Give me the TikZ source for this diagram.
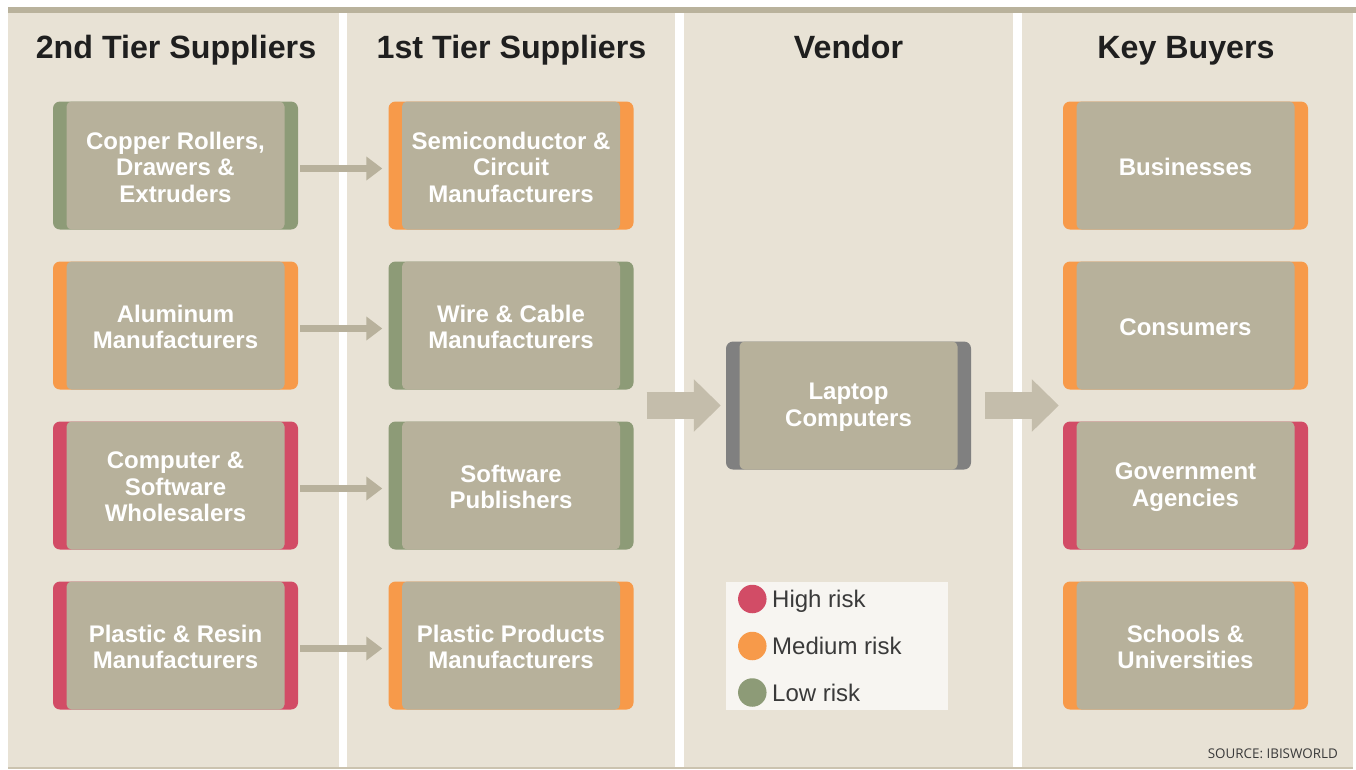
\documentclass[tikz,border=0pt]{standalone}
\usepackage{fontspec}
\setmainfont{Liberation Sans}
\newfontfamily\srcfont{Open Sans}
\usetikzlibrary{arrows.meta}

\definecolor{panel}{HTML}{E8E2D5}
\definecolor{topbar}{HTML}{B9B29C}
\definecolor{footline}{HTML}{CBC3AF}
\definecolor{boxfill}{HTML}{B7B19B}
\definecolor{riskhigh}{HTML}{D24C66}
\definecolor{riskmed}{HTML}{F79A4A}
\definecolor{risklow}{HTML}{8D9B77}
\definecolor{vendorgrey}{HTML}{808080}
\definecolor{smallarrow}{HTML}{B8B19C}
\definecolor{bigarrow}{HTML}{C4BDAB}
\definecolor{legendbg}{HTML}{F7F5F1}
\definecolor{legendtxt}{HTML}{3A3A3A}
\definecolor{titletxt}{HTML}{1F1F1F}

\tikzset{
  stripe/.style={fill=#1, rounded corners=7pt, minimum width=245pt,
    minimum height=128pt, inner sep=0pt},
  core/.style={fill=boxfill, rounded corners=5pt, minimum width=218pt,
    minimum height=128pt, inner sep=0pt},
  boxlabel/.style={inner sep=0pt, text=white, align=center,
    font=\bfseries\fontsize{24}{26.5}\selectfont},
  coltitle/.style={anchor=base, text=titletxt,
    font=\bfseries\fontsize{32.2}{36}\selectfont},
  sarrow/.style={draw=smallarrow, line width=6.5pt,
    -{Triangle[length=16pt,width=23pt]}},
  barrow/.style={draw=bigarrow, line width=27pt,
    -{Triangle[length=27pt,width=51pt]}},
  dot/.style={circle, fill=#1, minimum size=28.5pt, inner sep=0pt},
  legendtext/.style={anchor=base west, inner sep=0pt, text=legendtxt,
    font=\fontsize{24}{28}\selectfont},
}

% name, x, y, stripe colour, label
\newcommand\riskbox[5]{%
  \node[stripe=#4] (#1o) at (#2,#3) {};
  \node[core] (#1f) at (#2,#3) {};
  \node[boxlabel] (#1) at ([yshift=-1.5pt]#1f.center) {#5};
}

\begin{document}
\begin{tikzpicture}[x=1pt,y=-1pt]
  \useasboundingbox (0,0) rectangle (1356,769);
  \fill[white] (0,0) rectangle (1356,769);

  % column panels and frame lines
  \fill[topbar] (8,7) rectangle (1356,13);
  \fill[panel] (8,13) rectangle (339,767);
  \fill[panel] (347,13) rectangle (675,767);
  \fill[panel] (684,13) rectangle (1013,767);
  \fill[panel] (1022,13) rectangle (1353,767);
  \fill[footline] (8,767) rectangle (1353,768.6);

  % column headings
  \node[coltitle] (t1) at (176,58) {2nd Tier Suppliers};
  \node[coltitle] (t2) at (511.5,58) {1st Tier Suppliers};
  \node[coltitle] (t3) at (848.5,58) {Vendor};
  \node[coltitle] (t4) at (1186,58) {Key Buyers};

  % 2nd tier suppliers
  \riskbox{copper}{175.5}{165.5}{risklow}{Copper Rollers,\\Drawers \&\\Extruders}
  \riskbox{alu}{175.5}{325.5}{riskmed}{Aluminum\\Manufacturers}
  \riskbox{wholesale}{175.5}{485.5}{riskhigh}{Computer \&\\Software\\Wholesalers}
  \riskbox{resin}{175.5}{645.5}{riskhigh}{Plastic \& Resin\\Manufacturers}

  % 1st tier suppliers
  \riskbox{semi}{511}{165.5}{riskmed}{Semiconductor \&\\Circuit\\Manufacturers}
  \riskbox{wire}{511}{325.5}{risklow}{Wire \& Cable\\Manufacturers}
  \riskbox{soft}{511}{485.5}{risklow}{Software\\Publishers}
  \riskbox{plastic}{511}{645.5}{riskmed}{Plastic Products\\Manufacturers}

  % vendor
  \riskbox{laptop}{848.5}{405.5}{vendorgrey}{Laptop\\Computers}

  % key buyers
  \riskbox{biz}{1185.5}{165.5}{riskmed}{Businesses}
  \riskbox{cons}{1185.5}{325.5}{riskmed}{Consumers}
  \riskbox{gov}{1185.5}{485.5}{riskhigh}{Government\\Agencies}
  \riskbox{school}{1185.5}{645.5}{riskmed}{Schools \&\\Universities}

  % supply links between tiers
  \draw[sarrow] ([xshift=2pt,yshift=-3pt]coppero.east) -- ([xshift=-6pt,yshift=-3pt]semio.west);
  \draw[sarrow] ([xshift=2pt,yshift=-3pt]aluo.east) -- ([xshift=-6pt,yshift=-3pt]wireo.west);
  \draw[sarrow] ([xshift=2pt,yshift=-3pt]wholesaleo.east) -- ([xshift=-6pt,yshift=-3pt]softo.west);
  \draw[sarrow] ([xshift=2pt,yshift=-3pt]resino.east) -- ([xshift=-6pt,yshift=-3pt]plastico.west);

  % flow into and out of the vendor
  \draw[barrow] ([xshift=13pt]laptopo.west -| wireo.east) -- ([xshift=-5pt]laptopo.west);
  \draw[barrow] ([xshift=14pt]laptopo.east) -- ([xshift=-4pt]laptopo.east -| govo.west);

  % risk legend
  \node[fill=legendbg, minimum width=222pt, minimum height=128pt,
    inner sep=0pt, anchor=north west] (legend) at (726,582) {};
  \node[dot=riskhigh] (dhigh) at (752.3,599) {};
  \node[dot=riskmed] (dmed) at (752.3,646) {};
  \node[dot=risklow] (dlow) at (752.3,692.5) {};
  \node[legendtext] (lhigh) at (772,607) {High risk};
  \node[legendtext] (lmed) at (772,654) {Medium risk};
  \node[legendtext] (llow) at (772,701.5) {Low risk};

  % source note
  \node[anchor=base east, text=legendtxt, inner sep=0pt,
    font=\srcfont\fontsize{13.4}{15}\selectfont] (src) at (1338,758) {SOURCE: IBISWORLD};
\end{tikzpicture}
\end{document}
